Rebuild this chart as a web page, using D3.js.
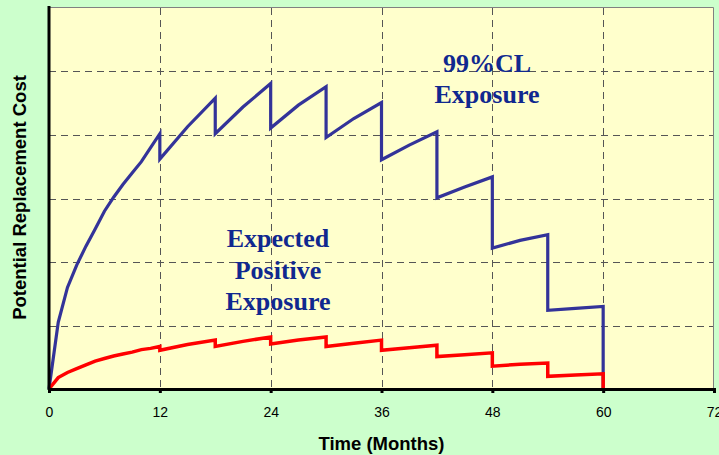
<!DOCTYPE html>
<html>
<head>
<meta charset="utf-8">
<script src="https://cdn.jsdelivr.net/npm/d3@7"></script>
<style>
  html, body { margin: 0; padding: 0; background: #CCFFCC; }
  svg { display: block; }
</style>
</head>
<body>
<svg id="chart" width="719" height="455"></svg>
<script>
// Exposure profile over a 60-month trade: months (with repeated points at each reset)
const months = [0, 1, 2, 3, 4, 5, 6, 7, 8, 9, 10, 11, 12,
  12, 15, 18,
  18, 21, 24,
  24, 27, 30,
  30, 33, 36,
  36, 39, 42,
  42, 45, 48,
  48, 51, 54,
  54, 57, 60,
  60];

// 99% confidence level exposure
const pfe99 = [0, 1.05, 1.6, 1.95, 2.25, 2.52, 2.8, 3.02, 3.22, 3.4, 3.58, 3.8, 4.02,
  3.62, 4.13, 4.58,
  4.02, 4.44, 4.81,
  4.11, 4.47, 4.76,
  3.96, 4.26, 4.51,
  3.61, 3.84, 4.05,
  3.01, 3.18, 3.34,
  2.22, 2.34, 2.43,
  1.24, 1.27, 1.30,
  0];

// Expected positive exposure
const epe = [0, 0.18, 0.26, 0.32, 0.38, 0.44, 0.48, 0.52, 0.55, 0.58, 0.62, 0.64, 0.67,
  0.61, 0.70, 0.77,
  0.67, 0.75, 0.82,
  0.71, 0.77, 0.82,
  0.67, 0.72, 0.77,
  0.61, 0.65, 0.69,
  0.51, 0.54, 0.57,
  0.36, 0.39, 0.41,
  0.20, 0.22, 0.24,
  0];

const xTicks = [0, 12, 24, 36, 48, 60, 72];
const yGrid = [1, 2, 3, 4, 5];

const svg = d3.select("#chart");
const plot = { left: 49, right: 714, top: 8, bottom: 389 };

const x = d3.scaleLinear().domain([0, 72]).range([plot.left, plot.right]);
const y = d3.scaleLinear().domain([0, 6]).range([plot.bottom, plot.top]);

// Plot background
svg.append("rect")
  .attr("x", plot.left).attr("y", plot.top)
  .attr("width", plot.right - plot.left).attr("height", plot.bottom - plot.top)
  .attr("fill", "#FFFFCC");

// Dashed gridlines
const grid = svg.append("g").attr("stroke", "#555").attr("stroke-width", 1)
  .attr("stroke-dasharray", "7,5").attr("fill", "none");
grid.selectAll("line.h").data(yGrid).join("line")
  .attr("x1", plot.left).attr("x2", plot.right)
  .attr("y1", d => Math.round(y(d)) + 0.5).attr("y2", d => Math.round(y(d)) + 0.5);
grid.selectAll("line.v").data(xTicks.filter(d => d > 0 && d < 72)).join("line")
  .attr("y1", plot.top).attr("y2", plot.bottom)
  .attr("x1", d => Math.round(x(d)) + 0.5).attr("x2", d => Math.round(x(d)) + 0.5);

// Top and right frame
svg.append("path")
  .attr("d", `M${plot.left},${plot.top - 0.5}H${plot.right - 0.5}V${plot.bottom}`)
  .attr("stroke", "#808080").attr("stroke-width", 1).attr("fill", "none");

// Series lines
const line = vals => d3.line()
  .x((d, i) => x(months[i]))
  .y(d => y(d))(vals);

svg.append("path").attr("d", line(pfe99))
  .attr("fill", "none").attr("stroke", "#333399").attr("stroke-width", 3.2)
  .attr("stroke-linejoin", "miter");
svg.append("path").attr("d", line(epe))
  .attr("fill", "none").attr("stroke", "#FF0000").attr("stroke-width", 3.5)
  .attr("stroke-linejoin", "miter");

// Axes
const xAxis = d3.axisBottom(x).tickValues(xTicks).tickSize(4).tickPadding(14);
const gx = svg.append("g").attr("transform", `translate(0,${plot.bottom})`).call(xAxis);
gx.select(".domain").attr("stroke", "#000").attr("stroke-width", 3);
gx.selectAll(".tick line").attr("stroke", "#000").attr("stroke-width", 3);
gx.selectAll(".tick text").attr("font-family", "Arial, 'Liberation Sans', sans-serif")
  .attr("font-size", 14).attr("fill", "#000");

svg.append("line")
  .attr("x1", plot.left).attr("x2", plot.left)
  .attr("y1", plot.top - 2).attr("y2", plot.bottom + 1)
  .attr("stroke", "#000").attr("stroke-width", 3);

// Axis titles
svg.append("text")
  .attr("x", x(36)).attr("y", 450)
  .attr("text-anchor", "middle")
  .attr("font-family", "Arial, 'Liberation Sans', sans-serif")
  .attr("font-weight", "bold").attr("font-size", 18.5)
  .text("Time (Months)");

svg.append("text")
  .attr("transform", `translate(26,${(70 + 325) / 2}) rotate(-90)`)
  .attr("text-anchor", "middle")
  .attr("font-family", "Arial, 'Liberation Sans', sans-serif")
  .attr("font-weight", "bold").attr("font-size", 18.5)
  .text("Potential Replacement Cost");

// Series annotations
const notes = [
  { lines: ["99%CL", "Exposure"], cx: 487, y0: 72, step: 30.5 },
  { lines: ["Expected", "Positive", "Exposure"], cx: 278, y0: 247, step: 31.5 }
];
notes.forEach(n => {
  n.lines.forEach((t, i) => {
    svg.append("text")
      .attr("x", n.cx).attr("y", n.y0 + i * n.step)
      .attr("text-anchor", "middle")
      .attr("font-family", "'Times New Roman', 'Liberation Serif', serif")
      .attr("font-weight", "bold").attr("font-size", 26)
      .attr("fill", "#10288F")
      .text(t);
  });
});
</script>
</body>
</html>
